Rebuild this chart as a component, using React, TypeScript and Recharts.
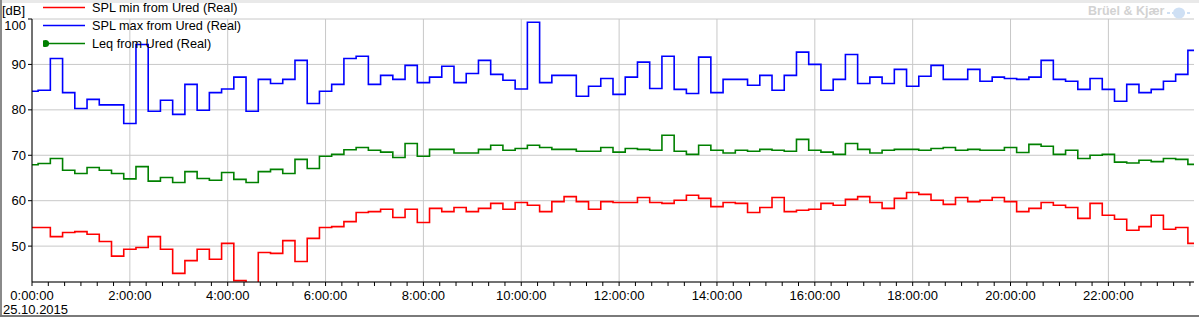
import { LineChart, Line, XAxis, YAxis, CartesianGrid } from 'recharts'

// 15-minute intervals, 0:00 .. 23:45 on 25.10.2015
const splMax = [
  84.1, 84.3, 91.3, 83.8, 80.3, 82.3, 81.1, 81.1, 77.0, 94.4, 79.7, 82.1,
  79.0, 85.6, 79.9, 83.8, 84.6, 87.2, 79.7, 86.7, 85.8, 86.7, 90.9, 81.4,
  84.1, 85.6, 91.3, 91.8, 85.6, 87.6, 86.7, 89.8, 86.0, 87.2, 89.6, 86.0,
  88.0, 90.9, 87.8, 86.5, 84.6, 99.3, 86.0, 87.6, 87.6, 83.0, 85.2, 86.9,
  83.4, 87.2, 90.5, 84.7, 91.8, 84.5, 83.6, 91.6, 83.8, 86.7, 86.7, 85.4,
  87.6, 84.3, 87.6, 92.7, 90.0, 84.3, 86.7, 92.2, 85.8, 87.2, 85.8, 88.9,
  85.2, 87.4, 89.8, 86.7, 86.7, 88.9, 86.3, 87.2, 86.9, 86.7, 87.2, 90.9,
  86.7, 86.3, 84.5, 86.9, 84.5, 81.9, 85.6, 83.8, 84.5, 86.3, 87.8, 93.1,
]

const leq = [
  67.9, 68.2, 69.3, 66.7, 66.0, 67.3, 66.7, 66.0, 64.8, 67.5, 64.3, 65.1,
  64.0, 66.4, 64.9, 64.5, 66.2, 64.7, 64.0, 66.4, 66.9, 66.0, 69.1, 67.1,
  69.8, 70.2, 71.2, 71.7, 71.1, 70.7, 69.5, 72.6, 69.8, 71.3, 71.3, 70.5,
  70.5, 71.3, 72.2, 71.1, 71.5, 72.2, 71.7, 71.3, 71.3, 70.9, 70.9, 71.7,
  70.7, 71.5, 71.3, 71.1, 74.4, 70.9, 70.2, 72.2, 71.1, 70.5, 71.1, 70.9,
  71.3, 71.1, 70.9, 73.5, 71.1, 70.7, 70.2, 72.6, 71.3, 70.5, 71.1, 71.3,
  71.3, 71.1, 71.5, 71.7, 71.1, 71.3, 71.1, 71.1, 71.7, 70.6, 72.4, 72.0,
  70.2, 71.1, 69.3, 70.0, 70.2, 68.5, 68.3, 68.9, 68.6, 69.3, 69.1, 68.0,
]

const splMin = [
  54.1, 54.1, 52.1, 53.0, 53.2, 52.6, 51.0, 47.8, 49.3, 49.7, 52.1, 49.3,
  44.0, 46.8, 49.3, 47.1, 50.6, 42.4, 41.0, 48.6, 48.4, 51.2, 46.6, 51.7,
  54.1, 54.3, 55.4, 57.4, 57.6, 58.1, 56.3, 58.1, 55.2, 58.3, 57.6, 58.5,
  57.6, 58.3, 59.4, 58.1, 59.6, 59.0, 57.6, 59.8, 60.9, 59.8, 58.1, 59.8,
  59.6, 59.6, 60.7, 59.6, 59.4, 60.1, 61.2, 60.5, 58.7, 59.6, 59.4, 57.4,
  58.5, 60.7, 57.6, 57.9, 58.1, 59.4, 59.0, 60.3, 60.9, 59.6, 58.3, 60.5,
  61.8, 61.4, 60.1, 59.2, 60.7, 59.8, 60.1, 60.7, 59.8, 57.6, 58.3, 59.6,
  59.0, 58.5, 56.1, 59.4, 56.8, 55.9, 53.5, 54.3, 56.8, 53.7, 54.1, 50.6,
]

const yTicks = [50, 60, 70, 80, 90, 100]
// minutes after midnight
const majorTicks = [0, 120, 240, 360, 480, 600, 720, 840, 960, 1080, 1200, 1320]
const minorTicks = Array.from({ length: 72 }, (_, i) => i * 20)

const series = [
  { key: 'min', name: 'SPL min from Ured (Real)', color: '#ff0000', marker: false },
  { key: 'max', name: 'SPL max from Ured (Real)', color: '#0000ff', marker: false },
  { key: 'leq', name: 'Leq from Ured (Real)', color: '#008000', marker: true },
]

const data = splMax.map((v, i) => ({
  t: i * 15,
  min: splMin[i],
  max: v,
  leq: leq[i],
}))

const FONT = '"Liberation Sans", Arial, sans-serif'

function fmtTime(v: number) {
  return v % 120 === 0 ? `${v / 60}:00:00` : ''
}

// top label sits a little below its gridline so it isn't cut off
function YTick({ x, y, payload }: any) {
  const shift = payload.value === yTicks[yTicks.length - 1] ? 6 : 0
  return (
    <text x={x} y={y + shift} dy="0.355em" textAnchor="end" fill="#000" fontSize={13} fontFamily={FONT}>
      {payload.value}
    </text>
  )
}

function LegendBox() {
  return (
    <div style={{ position: 'absolute', left: 43, top: 0 }}>
      {series.map((s, i) => (
        <div
          key={s.key}
          style={{ position: 'absolute', top: i * 18 - 1, left: 0, height: 18, width: 220, display: 'flex', alignItems: 'center' }}
        >
          <svg width={44} height={18} style={{ flex: 'none' }}>
            <line x1={0} x2={42} y1={8.5} y2={8.5} stroke={s.color} strokeWidth={1.3} />
            {s.marker && <circle cx={2.5} cy={8.5} r={3.6} fill={s.color} />}
          </svg>
          <span style={{ marginLeft: 5, fontSize: 12.7, color: '#000', whiteSpace: 'nowrap', lineHeight: '18px' }}>
            {s.name}
          </span>
        </div>
      ))}
    </div>
  )
}

export default function App() {
  return (
    <div style={{ position: 'absolute', left: 0, top: 0, width: 1199, height: 321, background: '#fff', fontFamily: FONT, overflow: 'hidden' }}>
      <div style={{ position: 'absolute', left: 0, top: 0, width: 1199, height: 3, background: '#e9e9e9' }} />
      <div style={{ position: 'absolute', left: 0, top: 0, width: 1.5, height: 317, background: '#8a8a8a' }} />
      <div style={{ position: 'absolute', left: 0, top: 315, width: 1199, height: 2, background: '#7a7a7a' }} />

      <LineChart width={1199} height={321} data={data} margin={{ top: 19, right: 5, bottom: 0, left: 0 }}>
        <CartesianGrid stroke="#c8c8c8" verticalValues={majorTicks} />
        <XAxis
          dataKey="t"
          type="number"
          domain={[0, 1425]}
          ticks={minorTicks}
          interval={0}
          tickFormatter={fmtTime}
          height={39}
          tickSize={4}
          tickMargin={5}
          stroke="#000"
          tick={{ fill: '#000', fontSize: 13, fontFamily: FONT }}
        />
        <YAxis
          type="number"
          domain={[42.1, 100]}
          ticks={yTicks}
          allowDataOverflow
          width={32}
          tickSize={4}
          tickMargin={2}
          stroke="#000"
          tick={<YTick />}
        />
        {series.map((s) => (
          <Line
            key={s.key}
            dataKey={s.key}
            name={s.name}
            type="step"
            stroke={s.color}
            strokeWidth={1.6}
            dot={false}
            isAnimationActive={false}
          />
        ))}
      </LineChart>

      <LegendBox />
      <div style={{ position: 'absolute', left: 2, top: 3, fontSize: 13, color: '#000' }}>[dB]</div>
      <div style={{ position: 'absolute', left: 3, top: 302, fontSize: 13, color: '#000' }}>25.10.2015</div>
      <div style={{ position: 'absolute', left: 1088, top: 4, fontSize: 12.5, fontWeight: 'bold', color: '#d2d2d2' }}>
        Brüel &amp; Kjær
      </div>
      <svg style={{ position: 'absolute', left: 1167, top: 6 }} width={24} height={14}>
        <ellipse cx={12} cy={7} rx={6} ry={5.5} fill="#cfe0f4" />
        <line x1={0} x2={24} y1={7} y2={7} stroke="#cfe0f4" strokeWidth={2} strokeDasharray="3 2" />
      </svg>
    </div>
  )
}
